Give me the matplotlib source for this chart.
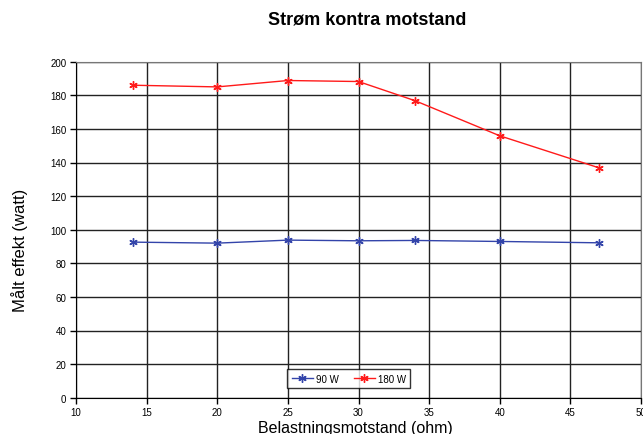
import matplotlib
matplotlib.use('Agg')
import matplotlib.pyplot as plt

# belastningsmotstand (ohm) og målt effekt (watt)
motstand = [14, 20, 25, 30, 34, 40, 47]
effekt_90 = [92.6, 92.0, 93.8, 93.4, 93.6, 93.0, 92.2]
effekt_180 = [186.0, 185.0, 188.8, 188.2, 176.8, 155.9, 136.9]

plt.rcParams['font.family'] = ['Liberation Sans', 'DejaVu Sans']

fig = plt.figure(figsize=(6.43, 4.35), dpi=100)
ax = fig.add_axes([76/643, 1 - 398.7/435, 565/643, 336/435])

ax.plot(motstand, effekt_90, color='#3344aa', lw=1, marker=(6, 2, 0), ms=6,
        mew=1, label='90 W')
ax.plot(motstand, effekt_180, color='#ff1a1a', lw=1, marker=(6, 2, 0), ms=6,
        mew=1, label='180 W')

ax.set_xlim(10, 50)
ax.set_ylim(0, 200)
ax.set_xticks(range(10, 51, 5))
ax.set_yticks(range(0, 201, 20))
ax.grid(True, color='#222222', lw=1)
ax.set_axisbelow(True)
ax.tick_params(labelsize=7, length=4, width=1, color='black', pad=3)

for side in ['top', 'right']:
    ax.spines[side].set_color('#777777')
for side in ['left', 'bottom']:
    ax.spines[side].set_color('black')

ax.set_xlabel('Belastningsmotstand (ohm)', fontsize=11.5)
ax.xaxis.set_label_coords(0.494, -0.066)
ax.set_ylabel('Målt effekt (watt)', fontsize=12)
ax.yaxis.set_label_coords(-0.085, 0.44)
fig.text(0.571, 0.955, 'Strøm kontra motstand', fontsize=13,
         fontweight='bold', ha='center', va='center')

leg = ax.legend(loc='lower center', bbox_to_anchor=(0.483, 0.029), ncol=2,
                fontsize=7, frameon=True, fancybox=False, handlelength=2.2,
                columnspacing=1.5, borderpad=0.45, handletextpad=0.3,
                borderaxespad=0)
leg.get_frame().set_edgecolor('black')
leg.get_frame().set_linewidth(1)

fig.savefig('out.png', dpi=100)
